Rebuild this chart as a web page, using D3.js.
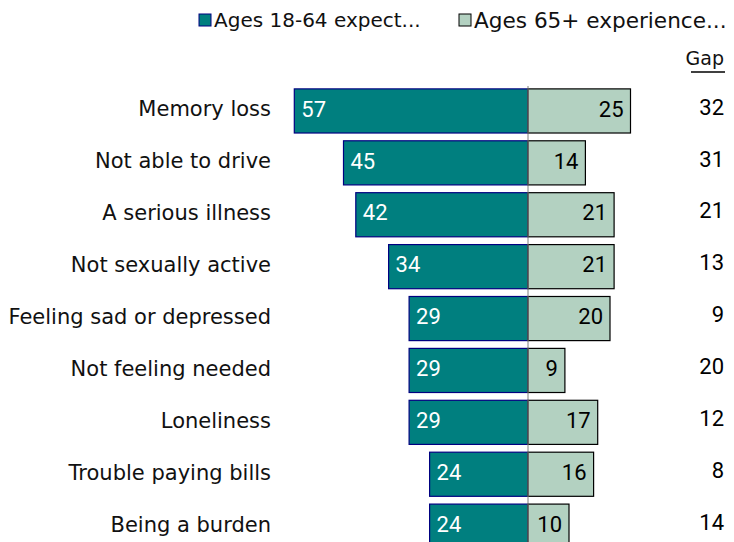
<!DOCTYPE html>
<html><head><meta charset="utf-8">
<script src="https://cdn.jsdelivr.net/npm/d3@7"></script>
<style>body{margin:0;background:#fff}svg{display:block}</style>
</head><body><svg id="c" width="734" height="542"></svg>
<script>
const categories = ["Memory loss","Not able to drive","A serious illness","Not sexually active","Feeling sad or depressed","Not feeling needed","Loneliness","Trouble paying bills","Being a burden"];
const expect = [57,45,42,34,29,29,29,24,24];
const experience = [25,14,21,21,20,9,17,16,10];
const gap = [32,31,21,13,9,20,12,8,14];
const seriesNames = ["Ages 18-64 expect...","Ages 65+ experience..."];

const svg = d3.select("#c");
const font = "DejaVu Sans";
const numFont = "Roboto";
const cx = 528;
const x = d3.scaleLinear().domain([0,1]).range([0,4.1]);
const y = d3.scaleBand().domain(categories).range([85, 85+9*51.9]).paddingInner(0.15).paddingOuter(0.075);

svg.selectAll("rect.l").data(categories).join("rect")
  .attr("x",(d,i)=>cx - x(expect[i])).attr("y",d=>y(d))
  .attr("width",(d,i)=>x(expect[i])).attr("height",y.bandwidth())
  .attr("fill","#007F7F").attr("stroke","#000080").attr("stroke-width",1.2);
svg.selectAll("rect.r").data(categories).join("rect")
  .attr("x",cx).attr("y",d=>y(d))
  .attr("width",(d,i)=>x(experience[i])).attr("height",y.bandwidth())
  .attr("fill","#B3D1C1").attr("stroke","#000").attr("stroke-width",1.2);

svg.append("line").attr("x1",cx).attr("x2",cx).attr("y1",86).attr("y2",542)
  .attr("stroke","#808080").attr("stroke-width",1);

const mid = d => y(d)+y.bandwidth()/2;
svg.selectAll("text.cat").data(categories).join("text")
  .attr("x",271).attr("y",d=>mid(d)-2).attr("dy","0.35em").attr("text-anchor","end")
  .attr("font-family",font).attr("font-size",21).attr("fill","#111").text(d=>d);
svg.selectAll("text.lv").data(categories).join("text")
  .attr("x",(d,i)=>cx - x(expect[i]) + 7).attr("y",d=>mid(d)-2).attr("dy","0.35em")
  .attr("font-family",numFont).attr("font-size",22).attr("fill","#fff").text((d,i)=>expect[i]);
svg.selectAll("text.rv").data(categories).join("text")
  .attr("x",(d,i)=>cx + x(experience[i]) - 7).attr("y",d=>mid(d)-2).attr("dy","0.35em").attr("text-anchor","end")
  .attr("font-family",numFont).attr("font-size",22).attr("fill","#000").text((d,i)=>experience[i]);
svg.selectAll("text.gap").data(categories).join("text")
  .attr("x",724).attr("y",d=>mid(d)-4).attr("dy","0.35em").attr("text-anchor","end")
  .attr("font-family",numFont).attr("font-size",22).attr("fill","#000").text((d,i)=>gap[i]);

// legend
const leg = [{x:199, fill:"#007F7F", stroke:"#000080", fs:20},{x:459, fill:"#B3D1C1", stroke:"#000", fs:21.6}];
leg.forEach((l,i)=>{
  svg.append("rect").attr("x",l.x).attr("y",14).attr("width",12).attr("height",12)
    .attr("fill",l.fill).attr("stroke",l.stroke).attr("stroke-width",1);
  svg.append("text").attr("x",l.x+15).attr("y",20).attr("dy","0.35em")
    .attr("font-family",font).attr("font-size",l.fs).attr("fill","#111").text(seriesNames[i]);
});
svg.append("text").attr("x",724).attr("y",58).attr("dy","0.35em").attr("text-anchor","end")
  .attr("font-family",font).attr("font-size",19).attr("fill","#111").text("Gap");
svg.append("line").attr("x1",691).attr("x2",725).attr("y1",72).attr("y2",72).attr("stroke","#000").attr("stroke-width",1.5);
</script></body></html>
